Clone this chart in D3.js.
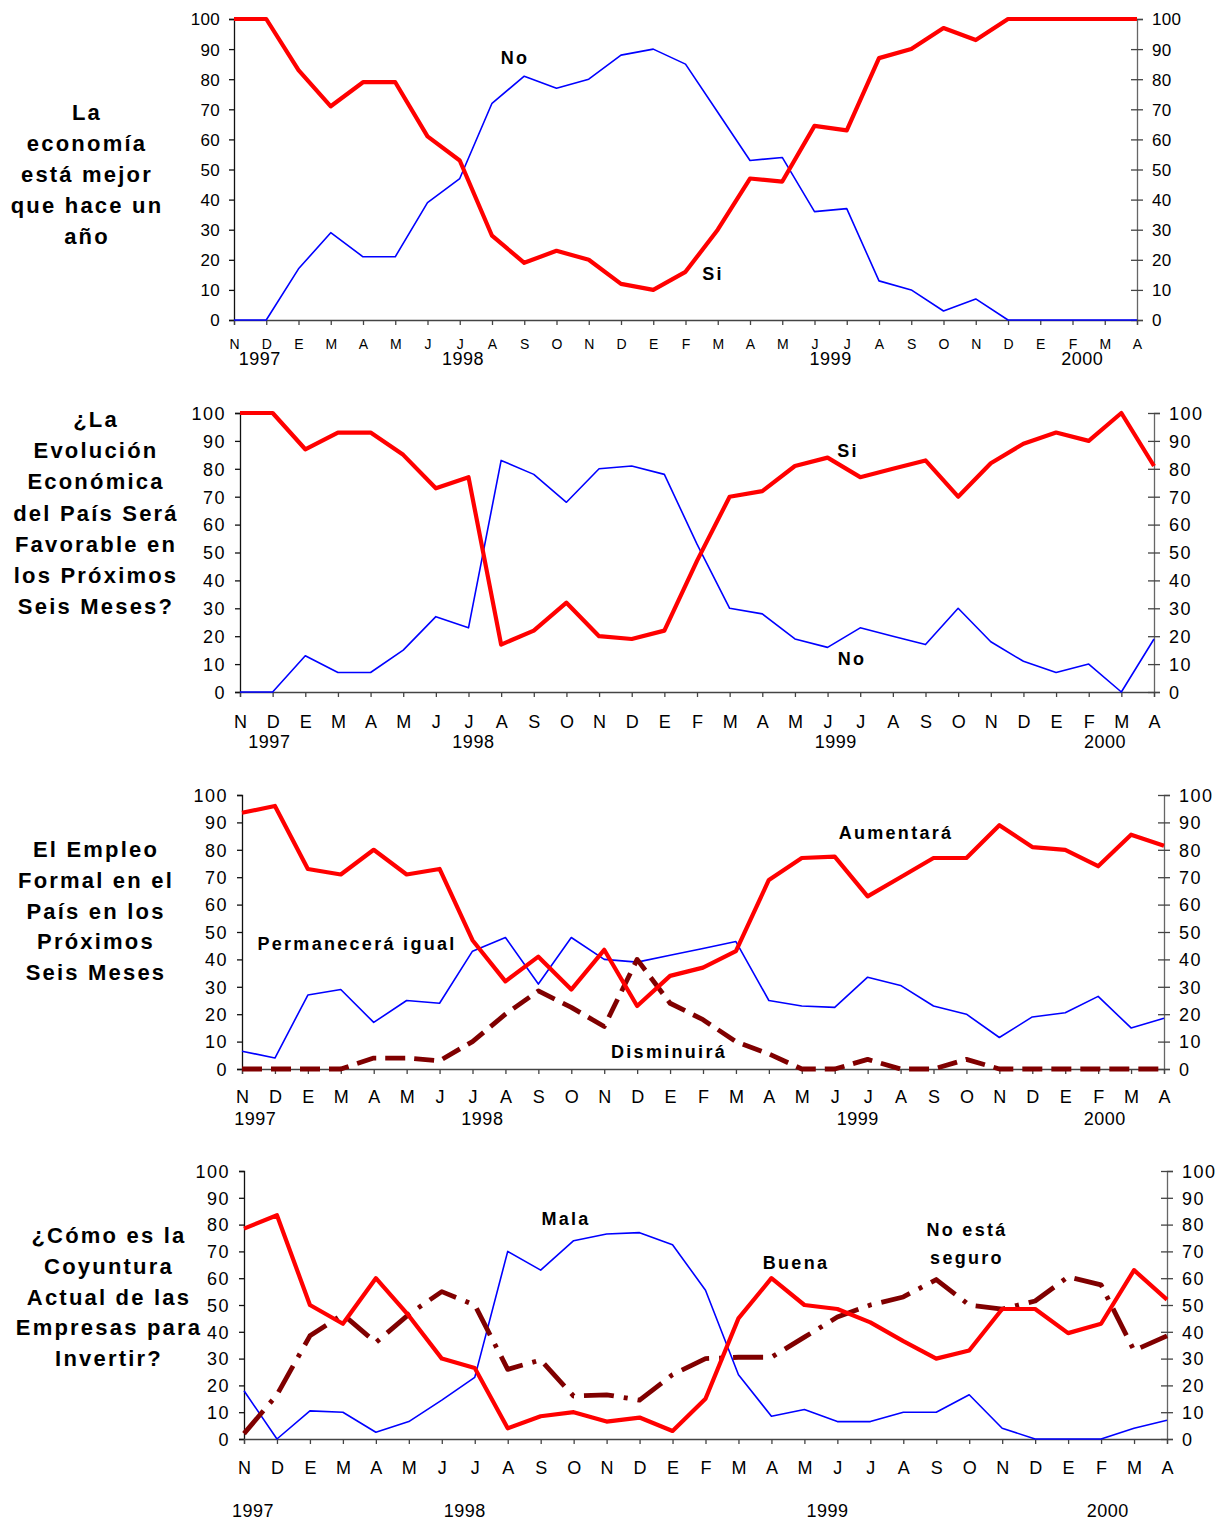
<!DOCTYPE html>
<html>
<head>
<meta charset="utf-8">
<script src="https://cdn.jsdelivr.net/npm/d3@7"></script>
<style>
  html, body { margin: 0; padding: 0; background: #fff; }
  svg { display: block; }
  text { font-family: "Liberation Sans", Arial, sans-serif; fill: #000; }
</style>
</head>
<body>
<script>
// Survey months, Nov 1997 – Apr 2000 (no survey in Feb 1998)
const months = ["N","D","E","M","A","M","J","J","A","S","O","N","D","E","F","M","A","M","J","J","A","S","O","N","D","E","F","M","A"];
const years = ["1997","1998","1999","2000"];
const yTicks = [0,10,20,30,40,50,60,70,80,90,100];

// La economía está mejor que hace un año
const economiaSi = [100,100,83,71,79,79,61,53,28,19,23,20,12,10,16,30,47,46,64.5,63,87,90,97,93,100,100,100,100,100];
const economiaNo = [0,0,17,29,21,21,39,47,72,81,77,80,88,90,85,69,53,54,36,37,13,10,3,7,0,0,0,0,0];

// ¿La evolución económica del país será favorable en los próximos seis meses?
const evolucionSi = [100,100,87,93,93,85,73,77,17,22,32,20,19,22,47,70,72,81,84,77,80,83,70,82,89,93,90,100,81];
const evolucionNo = [0,0,13,7,7,15,27,23,83,78,68,80,81,78,53,30,28,19,16,23,20,17,30,18,11,7,10,0,19];

// El empleo formal en el país en los próximos seis meses
const empleoAumentara  = [93.5,96,73,71,80,71,73,47,32,41,29,43.5,23,34,37,43,69,77,77.5,63,70,77,77,89,81,80,74,85.5,81.5];
const empleoIgual      = [6.5,4,27,29,17,25,24,43,48,31,48,40,39,41.5,44,46.5,25,23,22.5,33.5,30.5,23,20,11.5,19,20.5,26.5,15,18.5];
const empleoDisminuira = [0,0,0,0,4,4,3,10,20,28.5,22.5,15.5,40,24,18,10,5.5,0,0,3.5,0,0,3.5,0,0,0,0,0,0];

// ¿Cómo es la coyuntura actual de las empresas para invertir?
const coyunturaBuena     = [78.5,83.5,50,43,60,46,30,26.5,4,8.5,10,6.5,8,3,15,45,60,50,48.5,43.5,36.5,30,33,48.5,48.5,39.5,43,63,52];
const coyunturaMala      = [18,0,10.5,10,2.5,6.5,14.5,23,70,63,74,76.5,77,72.5,55.5,24,8.5,11,6.5,6.5,10,10,16.5,4,0,0,0,4,7];
const coyunturaNoSeguro  = [2,16.5,38.5,46.5,36,46.5,55,50,26,29.5,16,16.5,14.5,24,30,30.5,30.5,38,45.5,50,53,59.5,50,48.5,51.5,60.5,57.5,33,38.5];

const RED = "#ff0000", BLUE = "#0000ff", DARK = "#800000";

const panels = [
  {
    left: 234, right: 1137, top: 19, bottom: 320,
    monthSize: 14, monthY: 349, yearY: 365, yearAt: [0.8, 7.1, 18.5, 26.3], tickSize: 17, spacing: 0.3,
    title: ["La","economía","está mejor","que hace un","año"], titleX: 87, titleY: 112, titleStep: 31,
    series: [
      { values: economiaNo, color: BLUE, width: 1.6 },
      { values: economiaSi, color: RED, width: 4.2 }
    ],
    notes: [ { text: "No", x: 515, y: 64 }, { text: "Si", x: 713, y: 280 } ]
  },
  {
    left: 240, right: 1154, top: 413, bottom: 692,
    monthSize: 18, monthY: 728, yearY: 748, yearAt: [0.9, 7.15, 18.25, 26.5], tickSize: 18, spacing: 1.5,
    title: ["¿La","Evolución","Económica","del País Será","Favorable en","los Próximos","Seis Meses?"], titleX: 96, titleY: 419, titleStep: 31.2,
    series: [
      { values: evolucionNo, color: BLUE, width: 1.6 },
      { values: evolucionSi, color: RED, width: 4.2 }
    ],
    notes: [ { text: "Si", x: 848, y: 457 }, { text: "No", x: 852, y: 665 } ]
  },
  {
    left: 242, right: 1164, top: 795, bottom: 1069,
    monthSize: 18, monthY: 1103, yearY: 1125, yearAt: [0.4, 7.3, 18.7, 26.2], tickSize: 18, spacing: 1.5,
    title: ["El Empleo","Formal en el","País en los","Próximos","Seis Meses"], titleX: 96, titleY: 849, titleStep: 30.8,
    series: [
      { values: empleoIgual, color: BLUE, width: 1.6 },
      { values: empleoDisminuira, color: DARK, width: 4.8, dash: "20,9" },
      { values: empleoAumentara, color: RED, width: 4.2 }
    ],
    notes: [
      { text: "Permanecerá igual", x: 357, y: 950 },
      { text: "Aumentará", x: 896, y: 839 },
      { text: "Disminuirá", x: 669, y: 1058 }
    ]
  },
  {
    left: 244, right: 1167, top: 1171, bottom: 1439,
    monthSize: 18, monthY: 1474, yearY: 1517, yearAt: [0.27, 6.7, 17.7, 26.2], tickSize: 18, spacing: 1.5,
    title: ["¿Cómo es la","Coyuntura","Actual de las","Empresas para","Invertir?"], titleX: 109, titleY: 1235, titleStep: 30.8,
    series: [
      { values: coyunturaMala, color: BLUE, width: 1.6 },
      { values: coyunturaNoSeguro, color: DARK, width: 4.8, dash: "30,10,4,10" },
      { values: coyunturaBuena, color: RED, width: 4.2 }
    ],
    notes: [
      { text: "Mala", x: 566, y: 1225 },
      { text: "Buena", x: 796, y: 1269 },
      { text: "No está", x: 967, y: 1236 },
      { text: "seguro", x: 967, y: 1264 }
    ]
  }
];

const svg = d3.select("body").append("svg")
  .attr("width", 1228).attr("height", 1522);

panels.forEach(p => {
  const g = svg.append("g");
  const x = d3.scaleLinear().domain([0, months.length - 1]).range([p.left, p.right]);
  const y = d3.scaleLinear().domain([0, 100]).range([p.bottom, p.top]);

  // left value axis
  const leftAxis = g.append("g").attr("transform", `translate(${p.left},0)`)
    .call(d3.axisLeft(y).tickValues(yTicks).tickSize(5).tickPadding(9));
  // right value axis, ticks crossing the line
  const rightAxis = g.append("g").attr("transform", `translate(${p.right},0)`)
    .call(d3.axisRight(y).tickValues(yTicks).tickSize(6).tickPadding(9));
  rightAxis.selectAll(".tick line").attr("x1", -6);
  // month axis
  const bottomAxis = g.append("g").attr("transform", `translate(0,${p.bottom})`)
    .call(d3.axisBottom(x).tickValues(d3.range(months.length)).tickFormat(i => months[i]).tickSize(5));

  [leftAxis, rightAxis, bottomAxis].forEach(a => {
    a.select(".domain").attr("stroke-width", 1.3);
    a.selectAll(".tick line").attr("stroke-width", 1.3);
  });
  leftAxis.select(".domain").attr("stroke", "#111");
  leftAxis.selectAll(".tick line").attr("stroke", "#111");
  rightAxis.select(".domain").attr("stroke", "#666");
  rightAxis.selectAll(".tick line").attr("stroke", "#444");
  bottomAxis.select(".domain").attr("stroke", "#444");
  bottomAxis.selectAll(".tick line").attr("stroke", "#444");

  [leftAxis, rightAxis].forEach(a => a.selectAll(".tick text")
    .style("font-size", p.tickSize + "px")
    .style("letter-spacing", p.spacing + "px")
    .attr("dy", "0.35em"));
  bottomAxis.selectAll(".tick text")
    .style("font-size", p.monthSize + "px")
    .style("letter-spacing", "0px")
    .attr("y", null).attr("dy", null)
    .attr("transform", `translate(0,${p.monthY - p.bottom})`);

  // year labels under the month letters
  g.selectAll(".year").data(years).join("text")
    .attr("x", (d, i) => x(p.yearAt[i]))
    .attr("y", p.yearY)
    .attr("text-anchor", "middle")
    .style("font-size", "18px")
    .style("letter-spacing", "0.5px")
    .text(d => d);

  // series lines
  const line = d3.line().x((d, i) => x(i)).y(d => y(d)).curve(d3.curveLinear);
  p.series.forEach(s => {
    g.append("path")
      .datum(s.values)
      .attr("d", line)
      .attr("fill", "none")
      .attr("stroke", s.color)
      .attr("stroke-width", s.width)
      .attr("stroke-linejoin", "round")
      .attr("stroke-dasharray", s.dash || null);
  });

  // series labels
  g.selectAll(".note").data(p.notes).join("text")
    .attr("x", d => d.x).attr("y", d => d.y)
    .attr("text-anchor", "middle")
    .style("font-size", "18px")
    .style("font-weight", "bold")
    .style("letter-spacing", "2.3px")
    .text(d => d.text);

  // panel question
  g.selectAll(".title").data(p.title).join("text")
    .attr("x", p.titleX)
    .attr("y", (d, i) => p.titleY + 8 + i * p.titleStep)
    .attr("text-anchor", "middle")
    .style("font-size", "22px")
    .style("font-weight", "bold")
    .style("letter-spacing", "2.2px")
    .text(d => d);
});
</script>
</body>
</html>
